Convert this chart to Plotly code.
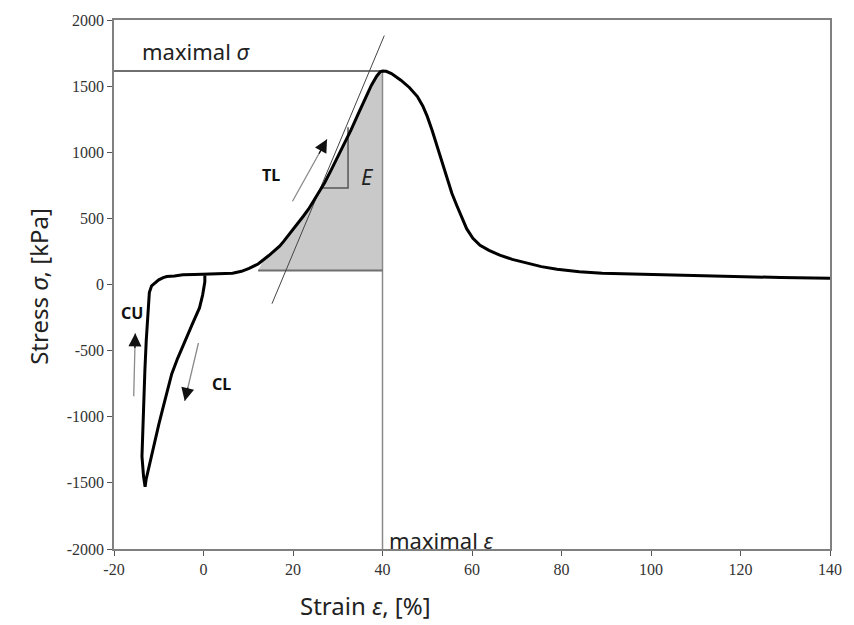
import plotly.graph_objects as go

# Stress-strain record: compression loop (CL / CU) followed by tension loading (TL)
strain = [0.3, 0.3, -0.2, -0.9, -2.5, -4.2, -5.8, -7.1, -8.1, -9.0, -10.0, -10.8,
          -11.6, -12.3, -12.8, -13.05, -13.4, -13.75, -13.6, -13.4, -13.1, -12.8,
          -12.5, -12.3, -12.1, -11.6, -10.8, -10.0, -9.0, -8.2, -6.5, -4.6, -2.0,
          0.0, 3.0, 6.5, 8.5, 10.2, 12.2, 13.4, 14.6, 15.8, 17.0, 18.0, 19.0, 20.1,
          21.2, 22.3, 23.5, 25.3, 27.1, 28.6, 30.1, 31.5, 33.0, 34.5, 36.0, 37.5,
          38.7, 39.5, 40.0, 40.8, 42.0, 44.1, 46.0, 47.8, 49.0, 50.0, 51.1, 52.2,
          53.3, 54.4, 55.5, 56.6, 57.7, 58.8, 60.2, 61.8, 63.8, 66.2, 69.0, 72.5,
          75.5, 79.0, 84.0, 89.1, 96.0, 103.8, 111.0, 118.5, 129.0, 140.0]
stress = [70, 20, -80, -177, -300, -427, -560, -676, -800, -926, -1060, -1176,
          -1280, -1376, -1470, -1530, -1450, -1300, -1100, -926, -650, -427,
          -250, -127, -60, -10, 15, 35, 52, 60, 65, 73, 75,
          77, 78, 85, 100, 122, 155, 185, 219, 254, 290, 330, 372, 418,
          465, 516, 571, 670, 771, 871, 971, 1068, 1171, 1285, 1395, 1505,
          1575, 1608, 1615, 1612, 1595, 1545, 1490, 1421, 1350, 1271, 1165, 1046,
          920, 796, 690, 597, 505, 422, 350, 297, 258, 222, 190, 160,
          135, 115, 97, 85, 78, 73, 66, 60, 53, 47]

x_ticks = [-20, 0, 20, 40, 60, 80, 100, 120, 140]
y_ticks = [-2000, -1500, -1000, -500, 0, 500, 1000, 1500, 2000]

# Construction used to read the modulus E
peak_strain, peak_stress = 40.0, 1615
base_stress = 106
base_start = 12.2
slope_x = [26.4, 32.3, 32.3]
slope_y = [729, 729, 1189]
tangent_x = [15.3, 40.4]
tangent_y = [-145, 1882]

fig = go.Figure()

# shaded region under the loading branch
tl = [(s, t) for s, t in zip(strain, stress) if s > base_start and s <= peak_strain and t > base_stress]
shade_x = [base_start] + [p[0] for p in tl] + [peak_strain, base_start]
shade_y = [base_stress] + [p[1] for p in tl] + [base_stress, base_stress]
fig.add_trace(go.Scatter(x=shade_x, y=shade_y, fill="toself", fillcolor="#c9c9c9",
                         line=dict(width=0), mode="lines", hoverinfo="skip"))

line_grey = "#6f6f6f"
fig.add_trace(go.Scatter(x=[-20, peak_strain], y=[peak_stress, peak_stress], mode="lines",
                         line=dict(color=line_grey, width=2)))
fig.add_trace(go.Scatter(x=[peak_strain, peak_strain], y=[peak_stress, -2000], mode="lines",
                         line=dict(color="#8a8a8a", width=1.5)))
fig.add_trace(go.Scatter(x=[base_start, peak_strain], y=[base_stress, base_stress], mode="lines",
                         line=dict(color=line_grey, width=2)))
fig.add_trace(go.Scatter(x=slope_x, y=slope_y, mode="lines",
                         line=dict(color="#555555", width=1.5)))
fig.add_trace(go.Scatter(x=tangent_x, y=tangent_y, mode="lines",
                         line=dict(color="#444444", width=1)))

# measured curve
fig.add_trace(go.Scatter(x=strain, y=stress, mode="lines",
                         line=dict(color="#000000", width=3)))

label_font = dict(family="Noto Sans", size=22, color="#222222")
bold_font = dict(family="Noto Sans", size=16, color="#111111")
title_font = dict(family="Noto Sans", size=24, color="#222222")
annotations = [
    dict(x=-14.3, y=1765, text="maximal <i>σ</i>", xanchor="left", font=label_font),
    dict(x=41.0, y=-1930, text="maximal <i>ε</i>", xanchor="left", font=label_font),
    dict(x=36.6, y=819, text="<i>E</i>", font=label_font),
    dict(x=15.0, y=828, text="<b>TL</b>", font=bold_font),
    dict(x=-16.0, y=-219, text="<b>CU</b>", font=bold_font),
    dict(x=4.1, y=-756, text="<b>CL</b>", font=bold_font),
    # axis titles
    dict(x=368, y=606, xref="pixel", text="Strain <i>ε</i>, [%]", font=title_font),
    dict(x=38, y=284, xref="pixel", text="Stress <i>σ</i>, [kPa]", textangle=-90, font=title_font),
]
# direction arrows: grey shaft with a dark head
arrows = [((19.7, 618), (27.6, 1098)), ((-15.6, -856), (-15.25, -369)), ((-1.05, -431), (-4.2, -881))]
for (x0, y0), (x1, y1) in arrows:
    annotations.append(dict(x=x1, y=y1, ax=x0, ay=y0, xref="x", yref="y", axref="x", ayref="y",
                            text="", showarrow=True, arrowhead=0, arrowwidth=1.3, arrowcolor="#8a8a8a"))
    annotations.append(dict(x=x1, y=y1, ax=x1 - (x1 - x0) * 0.25, ay=y1 - (y1 - y0) * 0.25,
                            xref="x", yref="y", axref="x", ayref="y", text="", showarrow=True,
                            arrowhead=2, arrowsize=2.0, arrowwidth=1.3, arrowcolor="#111111"))

W, H = 854, 625
final = []
for a in annotations:
    a = dict(a)
    a.setdefault("showarrow", False)
    if a.get("xref") == "pixel":
        # place titles in paper space from pixel positions
        a["xref"], a["yref"] = "paper", "paper"
        a["x"] = (a["x"] - 114) / (W - 114 - 16)
        a["y"] = 1 - (a["y"] - 16) / (H - 16 - 76)
        a["xanchor"], a["yanchor"] = "center", "middle"
    else:
        a.setdefault("xref", "x")
        a.setdefault("yref", "y")
    final.append(a)

tick_font = dict(family="Liberation Serif", size=16, color="#333333")
axis_common = dict(showline=True, linecolor="#808080", linewidth=1.5, mirror=True,
                   showgrid=False, zeroline=False, ticks="outside", tickcolor="#555555",
                   ticklen=5, tickfont=tick_font)
fig.update_layout(
    width=W, height=H,
    margin=dict(l=114, r=16, t=16, b=76),
    paper_bgcolor="white", plot_bgcolor="white",
    showlegend=False,
    annotations=final,
    xaxis=dict(range=[-20, 140], tickvals=x_ticks, ticktext=[str(v) for v in x_ticks], **axis_common),
    yaxis=dict(range=[-2000, 2000], tickvals=y_ticks, ticktext=[str(v) for v in y_ticks], **axis_common),
)

fig.write_html("out.html")
